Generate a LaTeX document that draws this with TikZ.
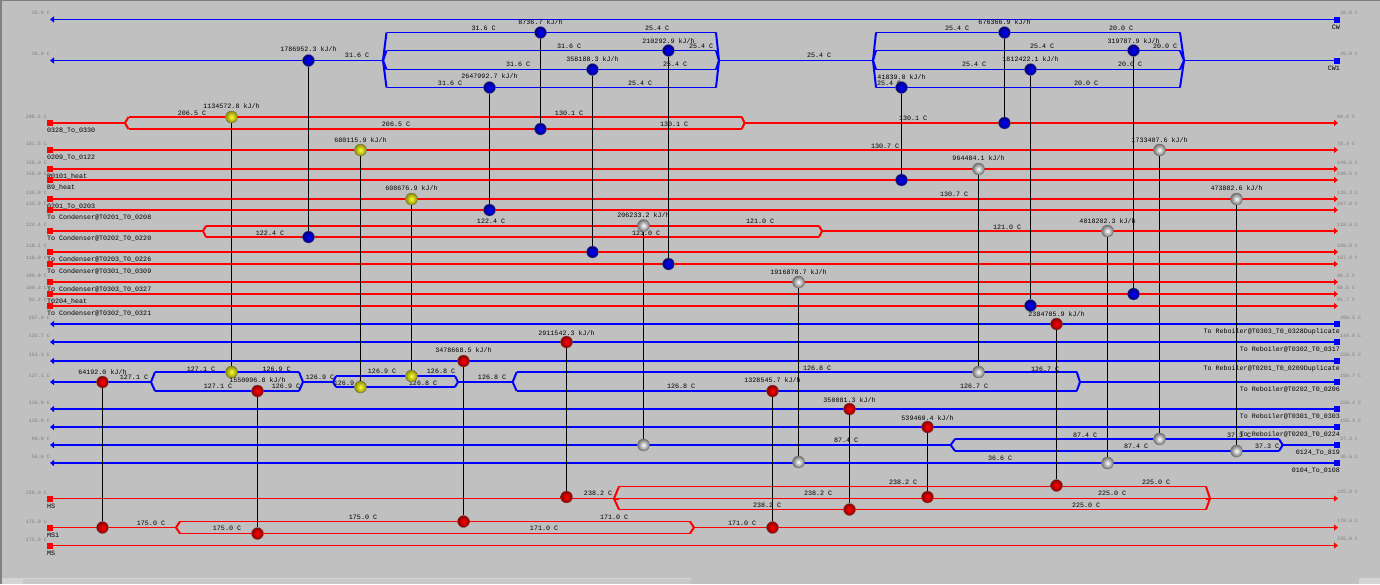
\documentclass[tikz,border=0pt]{standalone}
\usepackage{fontspec}
\usetikzlibrary{arrows.meta}
\newfontfamily\gridfont{Liberation Mono}
\definecolor{panelGrey}{RGB}{192,192,192}
\definecolor{edgeGrey}{RGB}{128,128,128}
\definecolor{barGrey}{RGB}{200,200,200}
\definecolor{btnGrey}{RGB}{212,212,212}
\definecolor{tempGrey}{RGB}{125,125,125}
\definecolor{streamRed}{RGB}{255,0,0}
\definecolor{streamBlue}{RGB}{0,0,255}
\newcommand{\Branches}[7]{\foreach \yb in {#7}{\draw[#1] (#3,\yb) -- (#4,\yb);\draw[#1,line width=2pt] (#2,#6) -- (#3,\yb);\draw[#1,line width=2pt] (#4,\yb) -- (#5,#6);}}
\tikzset{
  hotline/.style={draw=streamRed,line width=2pt},
  hotthin/.style={draw=streamRed,line width=1.1pt},
  coldline/.style={draw=streamBlue,line width=2pt},
  coldthin/.style={draw=streamBlue,line width=1.1pt},
  streamtip/.style={-{Triangle[length=4pt,width=6pt]}},
  hotend/.style={rectangle,fill=streamRed,minimum size=6pt,inner sep=0pt},
  coldend/.style={rectangle,fill=streamBlue,minimum size=6pt,inner sep=0pt},
  endtemp/.style={font=\gridfont\fontsize{5}{5}\selectfont,text=tempGrey,inner sep=0pt},
  gridtext/.style={font=\gridfont\fontsize{6.67}{7}\selectfont,text=black,inner sep=0pt},
  exball/.style={circle,minimum size=12pt,inner sep=0pt,draw=black!60,line width=0.3pt},
  blueball/.style={exball,inner color=blue,outer color=blue!50!black},
  redball/.style={exball,inner color=red,outer color=red!55!black},
  yellowball/.style={exball,inner color=yellow!80!white,outer color=yellow!55!black},
  whiteball/.style={exball,inner color=white,outer color=black!55},
  tie/.style={draw=black,line width=1.3pt}
}
\begin{document}
\begin{tikzpicture}[x=1pt,y=-1pt]
  \useasboundingbox (0,0) rectangle (1380,584);
  \fill[panelGrey] (0,0) rectangle (1380,584);
  \fill[edgeGrey] (0,0) rectangle (1380,1);
  \fill[edgeGrey] (0,0) rectangle (1.5,584);
  \fill[barGrey] (2,578) rectangle (691,584);
  \fill[btnGrey] (2,578) rectangle (691,578.8);
  \fill[btnGrey] (1359,578) rectangle (1380,584);
  \fill[btnGrey] (2,578) rectangle (23,584);
  \foreach \id/\yy/\nm/\ta/\tb in {a/123/0328\_To\_0330/206.5 C/80.0 C,b/150/0209\_To\_0122/151.5 C/78.4 C,c/169/R0101\_heat/150.0 C/149.5 C,d/180/B9\_heat/150.0 C/149.5 C,e/199/0201\_To\_0203/135.9 C/126.3 C,f/210/To Condenser@T0201\_T0\_0208/132.9 C/107.0 C,g/231/To Condenser@T0202\_T0\_0220/122.4 C/110.0 C,h/252/To Condenser@T0203\_T0\_0226/118.1 C/108.0 C,i/264/To Condenser@T0301\_T0\_0309/116.9 C/107.4 C,j/282/To Condenser@T0303\_T0\_0327/109.9 C/96.2 C,k/294/T0204\_heat/100.3 C/86.5 C,l/306/To Condenser@T0302\_T0\_0321/92.2 C/91.7 C,m/498.5/HS/250.0 C/225.0 C,n/527.5/MS1/175.0 C/170.0 C,o/545.5/MS/175.0 C/155.0 C}{
    \node[hotend] (h\id) at (50,\yy) {};
    \coordinate (h\id r) at (1338,\yy);
    \node[endtemp,anchor=east] (h\id a) at (47,\yy-6) {\ta};
    \node[endtemp,anchor=west] (h\id b) at (1337,\yy-6.5) {\tb};
    \node[gridtext,anchor=west] (h\id n) at (47,\yy+7.5) {\nm};
  }
  \foreach \id/\yy/\nm/\ta/\tb in {a/19.5/CW/35.0 C/20.0 C,b/60.5/CW1/35.0 C/20.0 C,c/324/To Reboiler@T0303\_T0\_0328Duplicate/207.0 C/206.5 C,d/342/To Reboiler@T0302\_T0\_0317/132.7 C/144.8 C,e/361/To Reboiler@T0201\_T0\_0209Duplicate/151.3 C/150.5 C,f/382/To Reboiler@T0202\_T0\_0206/127.1 C/156.7 C,g/409/To Reboiler@T0301\_T0\_0303/126.9 C/156.4 C,h/427/To Reboiler@T0203\_T0\_0224/126.9 C/156.4 C,i/445/0124\_To\_819/90.0 C/37.3 C,j/463/0104\_To\_0108/56.6 C/36.6 C}{
    \node[coldend] (c\id) at (1337,\yy) {};
    \coordinate (c\id l) at (50,\yy);
    \node[endtemp,anchor=east] (c\id a) at (50,\yy-6.5) {\ta};
    \node[endtemp,anchor=west] (c\id b) at (1340,\yy-6.5) {\tb};
    \node[gridtext,anchor=east] (c\id n) at (1340,\yy+7.5) {\nm};
  }
  \foreach \id in {b,c,d,e,f,h,i,j,k,l}{
    \draw[hotline,streamtip] (h\id) -- (h\id r);
  }
  \draw[hotthin,streamtip] (ho) -- (hor);
  \foreach \id in {c,d,e,g,h,j}{
    \draw[coldline,streamtip] (c\id) -- (c\id l);
  }
  \draw[coldthin,streamtip] (ca) -- (cal);
  \draw[coldthin] (cb) -- (1184,60.5);
  \Branches{coldthin}{1184}{1180}{876}{873}{60.5}{32.5,50.5,69.5,87.5}
  \draw[coldthin] (873,60.5) -- (719,60.5);
  \Branches{coldthin}{719}{716}{386.5}{383}{60.5}{32.5,50.5,69.5,87.5}
  \draw[coldthin,streamtip] (383,60.5) -- (cbl);
  \draw[coldline] (cf) -- (1080,382);
  \Branches{coldline}{1080}{1076.7}{516.7}{512.7}{382}{372,391}
  \draw[coldline] (512.7,382) -- (458,382);
  \Branches{coldline}{458}{455}{336}{333}{382}{376,387}
  \draw[coldline] (333,382) -- (303,382);
  \Branches{coldline}{303}{299}{155}{151}{382}{372,391}
  \draw[coldline,streamtip] (151,382) -- (cfl);
  \draw[coldline] (ci) -- (1282.7,445);
  \Branches{coldline}{1282.7}{1279}{955}{950.7}{445}{439,451}
  \draw[coldline,streamtip] (950.7,445) -- (cil);
  \draw[hotline] (ha) -- (125,123);
  \Branches{hotline}{125}{128.5}{741.7}{744.6}{123}{117,129}
  \draw[hotline,streamtip] (744.6,123) -- (har);
  \draw[hotline] (hg) -- (203,231);
  \Branches{hotline}{203}{206}{819}{822}{231}{226,237}
  \draw[hotline,streamtip] (822,231) -- (hgr);
  \draw[hotthin] (hm) -- (614,498.5);
  \Branches{hotthin}{614}{619}{1206}{1210}{498.5}{486.5,498.5,509.5}
  \draw[hotthin,streamtip] (1210,498.5) -- (hmr);
  \draw[hotthin] (hn) -- (176,527.5);
  \Branches{hotthin}{176}{180}{690}{694}{527.5}{521.5,533.5}
  \draw[hotthin,streamtip] (694,527.5) -- (hnr);
  \foreach \xx/\yy/\tv [count=\n] in {357/55.7/31.6 C,483.7/28.7/31.6 C,569/46.7/31.6 C,518/64.3/31.6 C,450/83.3/31.6 C,657/28.7/25.4 C,701/46.7/25.4 C,675/64.3/25.4 C,640/83.3/25.4 C,819/55.7/25.4 C,957/28.7/25.4 C,1042/46.7/25.4 C,974/64.3/25.4 C,889/83.3/25.4 C,1121/28.7/20.0 C,1165/46.7/20.0 C,1130/64.3/20.0 C,1086/83.3/20.0 C,192/113.3/206.5 C,396/124.3/206.5 C,569/113.3/130.1 C,674/124.3/130.1 C,913/118.7/130.1 C,885/146.7/130.7 C,954/194.3/130.7 C,270/233.3/122.4 C,491/221.3/122.4 C,646/233.3/121.0 C,760/221.3/121.0 C,1007/227.3/121.0 C,134/377.7/127.1 C,201/369/127.1 C,218/386.3/127.1 C,276.7/369/126.9 C,286/386.3/126.9 C,320/377.7/126.9 C,382/371.3/126.9 C,348/383.3/126.9 C,441/371.3/126.8 C,423/383.3/126.8 C,492/377.7/126.8 C,817/368.7/126.8 C,681/386.7/126.8 C,1045/369/126.7 C,974/386.3/126.7 C,846/440.3/87.4 C,1085/435.7/87.4 C,1136/446.7/87.4 C,1239/435.7/37.3 C,1267/446.7/37.3 C,1000/458.7/36.6 C,598/493.7/238.2 C,903/482.7/238.2 C,818/493.7/238.2 C,767/505.7/238.2 C,1156/482.7/225.0 C,1112/493.7/225.0 C,1086/505.7/225.0 C,151/523.7/175.0 C,363/517.3/175.0 C,227/528.7/175.0 C,614/517.3/171.0 C,544/528.7/171.0 C,742/523.7/171.0 C}{
    \node[gridtext] (tv\n) at (\xx,\yy) {\tv};
  }
  \foreach \id/\xx/\ya/\yb/\qv/\yq/\cl in {e1/308.5/60.5/237/1786952.3/49.5/blueball,e2/540.5/32.5/129/8736.7/21.7/blueball,e3/668.5/50.5/264/210292.9/40.7/blueball,e4/592.5/69.5/252/358188.3/58.7/blueball,e5/489.5/87.5/210/2647992.7/76.3/blueball,e6/901.5/87.5/180/41839.0/76.7/blueball,e7/1004.5/32.5/123/676366.9/21.7/blueball,e8/1030.5/69.5/305.5/1812422.1/58.7/blueball,e9/1133.5/50.5/294/319787.9/40.7/blueball,y1/231.5/117/372/1134572.8/106.3/yellowball,y2/360.5/150/387/680115.9/140.3/yellowball,y3/411.5/199/376/608676.9/188/yellowball,g1/978.5/169/372/964484.1/158.3/whiteball,g2/1159.5/150/439/1733407.6/140.3/whiteball,g3/1236.5/199/451/473882.6/188.3/whiteball,g4/643.5/225.5/445/206233.2/215.3/whiteball,g5/1107.5/231/463/4018202.3/221.3/whiteball,g6/798.5/282/462/1916878.7/272.3/whiteball,r1/102.5/382/527.5/64192.0/371.7/redball,r2/257.5/391/533.5/1550096.8/380.3/redball,r3/463.5/361/521.5/3478668.5/350.3/redball,r4/566.5/342/497/2911542.3/332.7/redball,r5/772.5/391/527.5/1328545.7/380.3/redball,r6/849.5/409/509.5/350081.3/399.7/redball,r7/927.5/427/497/539460.4/417.7/redball,r8/1056.5/324/485.5/2384705.9/313.7/redball}{
    \node[\cl] (\id t) at (\xx,\ya) {};
    \node[\cl] (\id b) at (\xx,\yb) {};
    \draw[tie] (\id t) -- (\id b);
    \node[gridtext] (\id q) at (\xx,\yq) {\qv{} kJ/h};
  }
\end{tikzpicture}
\end{document}
